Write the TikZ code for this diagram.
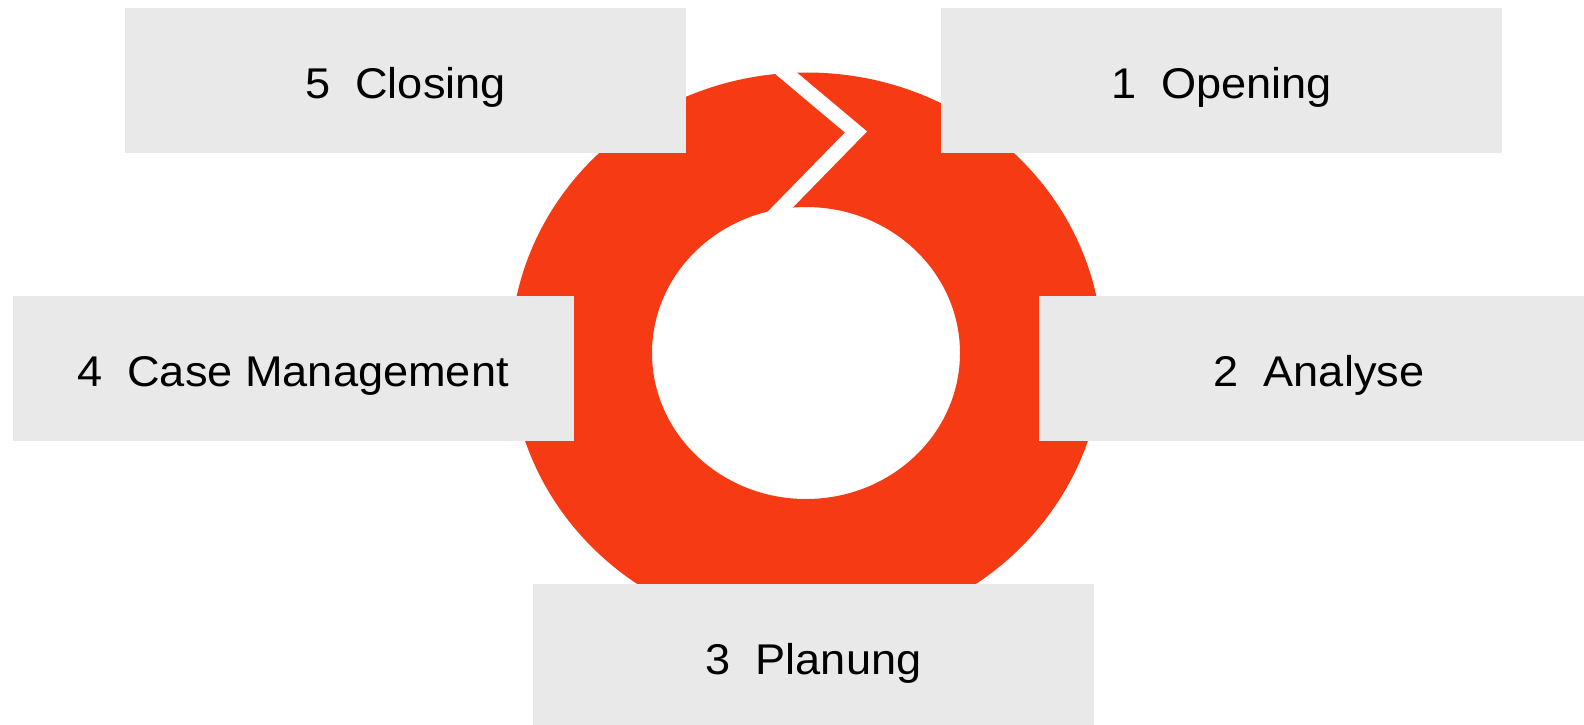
\documentclass[tikz,border=0pt]{standalone}
\usepackage{fontspec}
\newfontfamily\phasefont[FakeStretch=1.05]{Liberation Sans}
\usepackage{tikz}
\definecolor{ringred}{HTML}{F53A14}
\definecolor{boxgray}{HTML}{E9E9E9}

\begin{document}
\begin{tikzpicture}[
    x=1pt, y=-1pt,
    phase/.style={fill=boxgray, minimum width=561pt, minimum height=144.5pt,
      inner sep=0pt, text height=36pt, text depth=0pt,
      font=\phasefont\fontsize{43}{50}\selectfont}]

    \useasboundingbox (0, 0) rectangle (1584, 725);

    % ring with the gap at the top
    \fill [ringred, even odd rule] (806.5, 353.5) ellipse [x radius=296, y radius=281]
      (806, 353) ellipse [x radius=154, y radius=146];
    \draw [white, line width=15pt] (775, 64) -- (856, 132) -- (770, 220);

    \node [phase] (opening) at (1221.5, 80.3) {1~~Opening};
    \node [phase] (analyse) at (1319, 368.5) {2~~Analyse};
    \node [phase] (planung) at (813.5, 656.3) {3~~Planung};
    \node [phase] (casemgmt) at (293, 368.5) {4~~Case Management};
    \node [phase] (closing) at (405.5, 80.3) {5~~Closing};

  \end{tikzpicture}
\end{document}
